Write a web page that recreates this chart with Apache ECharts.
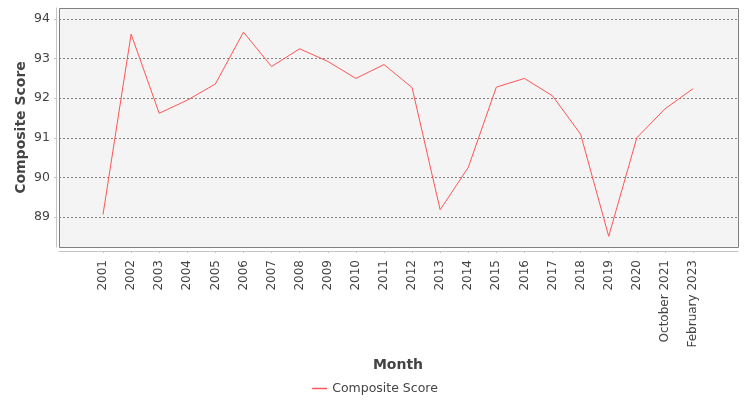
<!DOCTYPE html>
<html>
<head>
<meta charset="utf-8">
<script src="https://cdn.jsdelivr.net/npm/echarts@6/dist/echarts.min.js"></script>
<style>
  html, body { margin: 0; padding: 0; background: #fff; }
  #chart { width: 750px; height: 400px; }
</style>
</head>
<body>
<div id="chart"></div>
<script>
const months = ['2001', '2002', '2003', '2004', '2005', '2006', '2007', '2008', '2009', '2010',
  '2011', '2012', '2013', '2014', '2015', '2016', '2017', '2018', '2019', '2020',
  'October 2021', 'February 2023']
const compositeScore = [89.06, 93.62, 91.62, 91.95, 92.36, 93.67, 92.80, 93.25, 92.93, 92.50,
  92.85, 92.27, 89.18, 90.25, 92.28, 92.50, 92.06, 91.09, 88.51, 91.00,
  91.73, 92.24]
const yTicks = [89, 90, 91, 92, 93, 94]
const yMin = 88.24
const yMax = 94.28

const font = 'DejaVu Sans'
const myChart = echarts.init(document.getElementById('chart'))

const option = {
  animation: false,
  textStyle: { fontFamily: font },
  grid: [
    { left: 59, right: 12, top: 8, bottom: 153, show: true, backgroundColor: '#f4f4f4', borderWidth: 0 },
    { left: 103, right: 57, top: 8, bottom: 153 }
  ],
  xAxis: [
    {
      gridIndex: 0,
      type: 'category',
      data: months,
      offset: 4,
      axisLine: { lineStyle: { color: '#c4c4c4' } },
      axisTick: { show: false },
      axisLabel: { show: false },
      splitLine: { show: false }
    },
    {
      gridIndex: 1,
      type: 'category',
      data: months,
      boundaryGap: false,
      offset: 4,
      axisLine: { show: false },
      axisTick: { show: true, length: 2, lineStyle: { color: '#c4c4c4' } },
      axisLabel: { rotate: 90, margin: 9, fontSize: 12, color: '#444', fontFamily: font },
      name: 'Month',
      nameLocation: 'middle',
      nameGap: 107,
      nameMoveOverlap: false,
      nameTextStyle: { fontSize: 14, fontWeight: 'bold', color: '#444', fontFamily: font }
    }
  ],
  yAxis: [
    {
      gridIndex: 0,
      type: 'value',
      min: yMin,
      max: yMax,
      offset: 3,
      axisLine: { show: true, lineStyle: { color: '#c4c4c4' } },
      axisTick: { show: true, length: 2, customValues: yTicks, lineStyle: { color: '#c4c4c4' } },
      axisLabel: { customValues: yTicks, fontSize: 12.5, color: '#444', margin: 6, fontFamily: font },
      splitLine: { show: true, lineStyle: { color: '#666', type: [2, 2], width: 0.8 } },
      name: 'Composite Score',
      nameLocation: 'middle',
      nameGap: 28,
      nameMoveOverlap: false,
      nameTextStyle: { fontSize: 14, fontWeight: 'bold', color: '#444', fontFamily: font }
    },
    {
      gridIndex: 1,
      type: 'value',
      min: yMin,
      max: yMax,
      show: false
    }
  ],
  legend: {
    bottom: 0,
    left: 'center',
    icon: 'rect',
    itemWidth: 15,
    itemHeight: 1.5,
    itemGap: 10,
    textStyle: { fontSize: 12.5, color: '#444', fontFamily: font },
    data: ['Composite Score']
  },
  graphic: [
    {
      type: 'rect',
      z: 100,
      shape: { x: 59.5, y: 8.5, width: 679, height: 239 },
      style: { fill: 'none', stroke: '#808080', lineWidth: 1 }
    }
  ],
  series: [
    {
      name: 'Composite Score',
      type: 'line',
      xAxisIndex: 1,
      yAxisIndex: 1,
      data: compositeScore,
      symbol: 'none',
      lineStyle: { color: '#ff5555', width: 1 },
      itemStyle: { color: '#ff5555' }
    }
  ]
}

myChart.setOption(option)
</script>
</body>
</html>
